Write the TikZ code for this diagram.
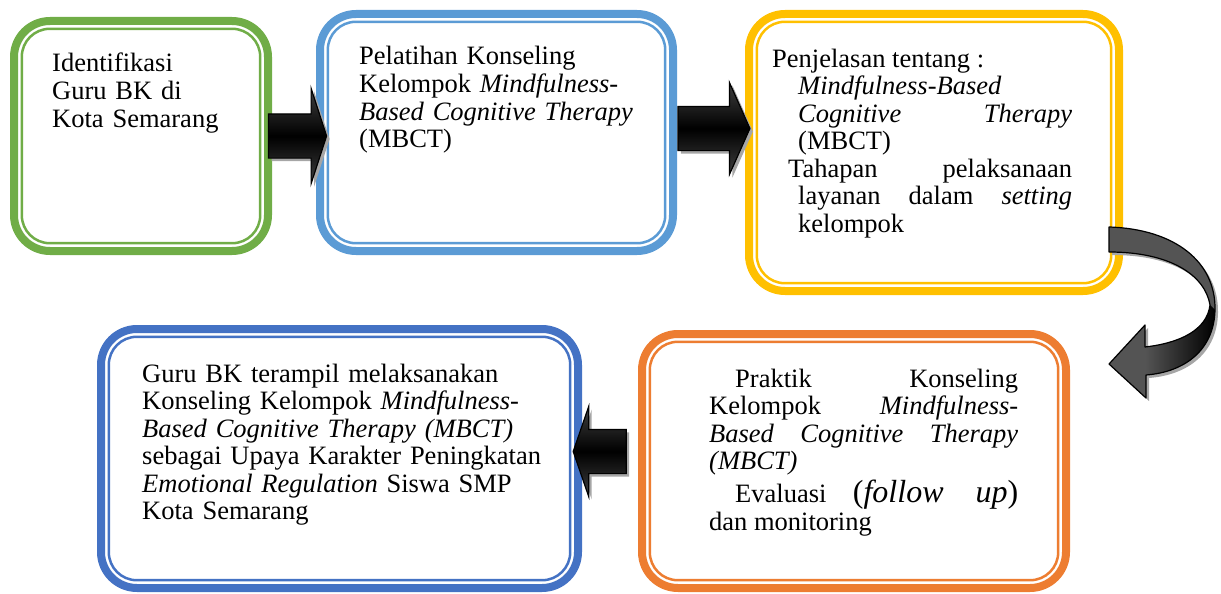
\documentclass[tikz,border=0pt]{standalone}
\usepackage{fontspec}
\setmainfont{Liberation Serif}
\usetikzlibrary{shapes.arrows}
\usetikzlibrary{shadows}

\definecolor{hijau}{HTML}{70AD47}
\definecolor{biru}{HTML}{5B9BD5}
\definecolor{kuning}{HTML}{FFC000}
\definecolor{oranye}{HTML}{ED7D31}
\definecolor{birutua}{HTML}{4472C4}

\begin{document}
\begin{tikzpicture}[x=1pt,y=-1pt,
  kotak/.style={draw=#1,line width=8,rounded corners=36,fill=white,outer sep=0,inner sep=0},
  garis/.style={draw=#1,line width=2.5,rounded corners=28},
  teks/.style={font={\fontsize{26.5}{27.5}\selectfont\hbadness=10000 },inner sep=0,anchor=base west},
  panah/.style={single arrow,draw=black,line width=1.2,inner xsep=0,inner ysep=21.5,outer sep=0,
    top color=black!75,bottom color=black!75,middle color=black,
    drop shadow={shadow xshift=3pt,shadow yshift=-3pt,fill=gray!70,opacity=1}}]
 \useasboundingbox (0,0) rectangle (1221,594);
 % kotak tahapan
 \node[kotak=hijau,minimum width=254,minimum height=230] (identifikasi) at (141,136) {};
 \node[kotak=biru,minimum width=353,minimum height=237] (pelatihan) at (496.5,132.5) {};
 \node[kotak=kuning,minimum width=370,minimum height=277] (penjelasan) at (934,152.5) {};
 \node[kotak=oranye,minimum width=424,minimum height=254] (praktik) at (854,461) {};
 \node[kotak=birutua,minimum width=477,minimum height=259] (hasil) at (339.5,458.5) {};
 \foreach \b/\c in {identifikasi/hijau,pelatihan/biru,penjelasan/kuning,praktik/oranye,hasil/birutua}
   \draw[garis=\c] ([shift={(7.8,7.8)}]\b.north west) rectangle ([shift={(-7.8,-7.8)}]\b.south east);
 % isi teks
 \node[teks,text width=215,align=left] (t1) at (52,72) {Identifikasi\\Guru BK di\\Kota Semarang};
 \node[teks,text width=300,align=left] (t2) at (359,65) {Pelatihan Konseling\\Kelompok \textit{Mindfulness-}\\\textit{Based Cognitive Therapy}\\(MBCT)};
 \node[teks,text width=300,align=justify] (t3) at (772,67) {Penjelasan tentang :\par
   {\leftskip=26pt \textit{Mindfulness-Based}\linebreak \textit{Cognitive Therapy}\linebreak (MBCT)\par}
   {\leftskip=16pt \hangindent=10pt \hangafter=1 Tahapan pelaksanaan\linebreak layanan dalam \textit{setting}\linebreak kelompok\par}};
 \node[teks,text width=309,align=justify] (t4) at (709,387) {\hspace*{26pt}Praktik Konseling\linebreak Kelompok \textit{Mindfulness-}\linebreak \textit{Based Cognitive Therapy}\linebreak \textit{(MBCT)}\par
   \vspace{4pt}
   \hspace*{26pt}Evaluasi {\fontsize{32}{34}\selectfont(\textit{follow up})}\linebreak dan monitoring\par};
 \node[teks,text width=430,align=left] (t5) at (142,382) {Guru BK terampil melaksanakan\\Konseling Kelompok \textit{Mindfulness-}\\\textit{Based Cognitive Therapy (MBCT)}\\sebagai Upaya Karakter Peningkatan\\\textit{Emotional Regulation} Siswa SMP\\Kota Semarang};
 % panah
 \node[panah,minimum height=58,single arrow head extend=25.5,single arrow tip angle=144] (p1) at (294,136) {};
 \node[panah,minimum height=72,single arrow head extend=24,single arrow tip angle=132] (p2) at (709,128.5) {};
 \node[panah,minimum height=53,single arrow head extend=23,single arrow tip angle=142,shape border rotate=180] (p4) at (603.5,451.5) {};
 \fill[black!67,drop shadow={shadow xshift=3pt,shadow yshift=-3pt,fill=gray!70,opacity=1}] (1109,227) .. controls (1175,229) and (1216,262) .. (1215,310) .. controls (1214,350) and (1185,372) .. (1146,375) -- (1146,398) -- (1109,364) -- (1145,325) -- (1145,347) .. controls (1180,343) and (1207,330) .. (1210,305) .. controls (1205,275) and (1170,252) .. (1109,252) -- cycle;
 \shade[left color=black!67,right color=black] (1215,310) .. controls (1214,350) and (1185,372) .. (1146,375) -- (1145,347) .. controls (1180,343) and (1207,330) .. (1210,305) -- cycle;
 \draw[line width=1.2,line join=round] (1109,227) .. controls (1175,229) and (1216,262) .. (1215,310) .. controls (1214,350) and (1185,372) .. (1146,375) -- (1146,398) -- (1109,364) -- (1145,325) -- (1145,347) .. controls (1180,343) and (1207,330) .. (1210,305) .. controls (1205,275) and (1170,252) .. (1109,252) -- cycle;
\end{tikzpicture}
\end{document}
